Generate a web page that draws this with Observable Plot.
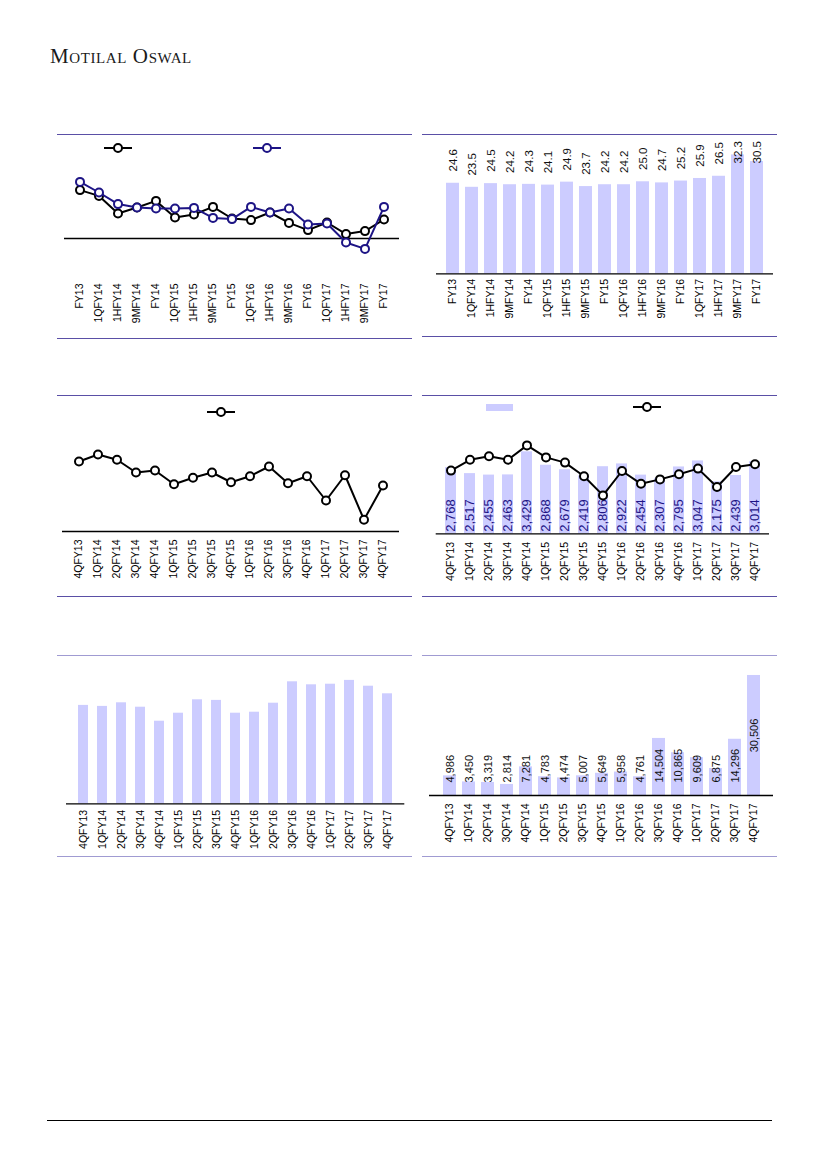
<!DOCTYPE html>
<html><head><meta charset="utf-8">
<script src="https://cdn.jsdelivr.net/npm/d3@7"></script>
<script src="https://cdn.jsdelivr.net/npm/@observablehq/plot@0.6"></script>
<style>
body{margin:0;background:#fff;}
#page{position:relative;width:827px;height:1169px;overflow:hidden;background:#fff;font-family:"Liberation Sans",Arial,sans-serif;}
.rule{position:absolute;height:0;border-top:1.4px solid #5a4fa6;}
.rule.light{border-top-color:#a09bd2;}
.rule.black{border-top:1.6px solid #000;}
#brand{position:absolute;left:50px;top:44px;line-height:24px;font-family:"Liberation Serif","Times New Roman",serif;font-variant:small-caps;font-size:21px;letter-spacing:0.6px;color:#1a1a1a;white-space:nowrap;}
svg{overflow:visible;}
</style></head>
<body>
<div id="page"><div id="brand">Motilal Oswal</div></div>
<script>
// ---------- data ----------
const periods = ["FY13","1QFY14","1HFY14","9MFY14","FY14","1QFY15","1HFY15","9MFY15","FY15","1QFY16","1HFY16","9MFY16","FY16","1QFY17","1HFY17","9MFY17","FY17"];
const quarters = ["4QFY13","1QFY14","2QFY14","3QFY14","4QFY14","1QFY15","2QFY15","3QFY15","4QFY15","1QFY16","2QFY16","3QFY16","4QFY16","1QFY17","2QFY17","3QFY17","4QFY17"];
const chart1Black = [24.2, 21.3, 12.5, 15.5, 18.8, 10.5, 12.0, 15.8, 10.0, 9.2, 13.0, 7.8, 4.2, 8.0, 2.2, 3.7, 9.5];
const chart1Navy  = [28.3, 23.0, 17.2, 15.5, 15.0, 15.0, 15.3, 10.3, 9.7, 15.8, 13.0, 15.0, 7.0, 7.5, -2.0, -5.2, 15.8];
const chart2Values = [24.6, 23.5, 24.5, 24.2, 24.3, 24.1, 24.9, 23.7, 24.2, 24.2, 25.0, 24.7, 25.2, 25.9, 26.5, 32.3, 30.5];
const chart3Values = [28.0, 30.8, 28.7, 23.6, 24.4, 18.9, 21.5, 23.6, 19.7, 22.1, 26.0, 19.3, 22.1, 12.4, 22.5, 4.7, 18.4];
const chart4Bars = [2768, 2517, 2455, 2463, 3429, 2868, 2679, 2419, 2806, 2922, 2454, 2307, 2795, 3047, 2175, 2439, 3014];
const chart4Line = [15.8, 18.5, 19.4, 18.5, 22.1, 19.1, 17.8, 14.4, 9.6, 15.7, 12.5, 13.6, 14.9, 16.3, 11.7, 16.7, 17.4];
const chart5Values = [49.2, 48.7, 50.5, 48.3, 41.3, 45.3, 52.0, 51.7, 45.3, 45.8, 50.3, 61.0, 59.5, 59.8, 61.7, 58.8, 55.0];
const chart6Values = [4986, 3450, 3319, 2814, 7281, 4783, 4474, 5007, 5649, 5958, 4761, 14504, 10865, 9609, 6875, 14296, 30506];

// ---------- helpers ----------
const NAVY = "#1d1485";
const BAR = "#ccccff";
const FONT = "'Liberation Sans', Arial, sans-serif";
const page = document.getElementById("page");
const baseStyle = {fontFamily: FONT, fontSize: "10.5px", color: "#000", background: "transparent", overflow: "visible"};
const fmt = d3.format(",");

function place(el, left, top) {
  el.style.position = "absolute";
  el.style.left = left + "px";
  el.style.top = top + "px";
  page.appendChild(el);
}
function rule(left, top, width, cls) {
  const d = document.createElement("div");
  d.className = "rule" + (cls ? " " + cls : "");
  d.style.left = left + "px"; d.style.top = top + "px"; d.style.width = width + "px";
  page.appendChild(d);
}
function legendLine(left, top, color) {
  const ns = "http://www.w3.org/2000/svg";
  const s = document.createElementNS(ns, "svg");
  s.setAttribute("width", 30); s.setAttribute("height", 12);
  s.innerHTML = `<line x1="1" x2="29" y1="6" y2="6" stroke="${color}" stroke-width="2"/><circle cx="15" cy="6" r="4" fill="#fff" stroke="${color}" stroke-width="2"/>`;
  s.style.position = "absolute"; s.style.left = left + "px"; s.style.top = top + "px";
  page.appendChild(s);
}
function legendRect(left, top, w, h, color) {
  const d = document.createElement("div");
  d.style.position = "absolute"; d.style.left = left + "px"; d.style.top = top + "px";
  d.style.width = w + "px"; d.style.height = h + "px"; d.style.background = color;
  page.appendChild(d);
}
const xAxis = (pad) => Plot.axisX({tickRotate: -90, tickSize: 0, tickPadding: pad, label: null, fontSize: 10.5});

// ---------- chart 1 ----------
const d1 = periods.map((p, i) => ({p, a: chart1Black[i], b: chart1Navy[i]}));
const c1 = Plot.plot({
  width: 380, height: 195, marginLeft: 24, marginRight: 21, marginTop: 25, marginBottom: 63,
  style: baseStyle,
  x: {type: "band", domain: periods, padding: 0.3, label: null},
  y: {domain: [-17, 36.5], axis: null},
  marks: [
    Plot.ruleY([0], {stroke: "#000", strokeWidth: 1.3}),
    xAxis(11),
    Plot.line(d1, {x: "p", y: "a", stroke: "#000", strokeWidth: 2}),
    Plot.dot(d1, {x: "p", y: "a", r: 4, stroke: "#000", strokeWidth: 2, fill: "#fff"}),
    Plot.line(d1, {x: "p", y: "b", stroke: NAVY, strokeWidth: 2}),
    Plot.dot(d1, {x: "p", y: "b", r: 4, stroke: NAVY, strokeWidth: 2, fill: "#fff"})
  ]
});
place(c1, 40, 140);
legendLine(103, 142, "#000");
legendLine(252, 142, NAVY);

// ---------- chart 2 ----------
const d2 = periods.map((p, i) => ({p, v: chart2Values[i]}));
const y2Max = 36;
const labelCap2 = y2Max - 6;
const c2 = Plot.plot({
  width: 370, height: 200, marginLeft: 21, marginRight: 12, marginTop: 4.8, marginBottom: 62.7,
  style: baseStyle,
  x: {type: "band", domain: periods, padding: 0.34, label: null},
  y: {domain: [0, y2Max], axis: null},
  marks: [
    Plot.barY(d2, {x: "p", y: "v", fill: BAR}),
    Plot.ruleY([0], {stroke: "#000", strokeWidth: 1.3}),
    Plot.text(d2, {x: "p", y: d => Math.min(d.v + 3.2, labelCap2), text: d => d.v.toFixed(1), rotate: -90, textAnchor: "start", fontSize: 11.5, fill: "#111"}),
    xAxis(5)
  ]
});
place(c2, 415, 136);

// ---------- chart 3 ----------
const d3v = quarters.map((q, i) => ({q, v: chart3Values[i]}));
const c3 = Plot.plot({
  width: 380, height: 195, marginLeft: 22, marginRight: 21, marginTop: 41, marginBottom: 64,
  style: baseStyle,
  x: {type: "band", domain: quarters, padding: 0.3, label: null},
  y: {domain: [0, 36], axis: null},
  marks: [
    Plot.ruleY([0], {stroke: "#000", strokeWidth: 1.3}),
    xAxis(8),
    Plot.line(d3v, {x: "q", y: "v", stroke: "#000", strokeWidth: 2}),
    Plot.dot(d3v, {x: "q", y: "v", r: 4, stroke: "#000", strokeWidth: 2, fill: "#fff"})
  ]
});
place(c3, 40, 400);
legendLine(206, 406, "#000");

// ---------- chart 4 ----------
const d4 = quarters.map((q, i) => ({q, v: chart4Bars[i], m: chart4Line[i]}));
const y4Max = 4600;
const y4Secondary = d3.scaleLinear().domain([0, 27.5]).range([0, y4Max]);
const c4 = Plot.plot({
  width: 370, height: 195, marginLeft: 20.7, marginRight: 16, marginTop: 23.3, marginBottom: 61.7,
  style: baseStyle,
  x: {type: "band", domain: quarters, padding: 0.42, label: null},
  y: {domain: [0, y4Max], axis: null},
  marks: [
    Plot.barY(d4, {x: "q", y: "v", fill: BAR}),
    Plot.ruleY([0], {stroke: "#000", strokeWidth: 1.3}),
    Plot.text(d4, {x: "q", y: 0, dy: -2, text: d => fmt(d.v), rotate: -90, textAnchor: "start", fontSize: 13, fill: NAVY}),
    xAxis(8),
    Plot.line(d4, {x: "q", y: d => y4Secondary(d.m), stroke: "#000", strokeWidth: 2}),
    Plot.dot(d4, {x: "q", y: d => y4Secondary(d.m), r: 4, stroke: "#000", strokeWidth: 2, fill: "#fff"})
  ]
});
place(c4, 415, 400);
legendRect(486, 404, 27, 7, BAR);
legendLine(632, 401, "#000");

// ---------- chart 5 ----------
const d5 = quarters.map((q, i) => ({q, v: chart5Values[i]}));
const c5 = Plot.plot({
  width: 380, height: 195, marginLeft: 26, marginRight: 15.7, marginTop: 9.3, marginBottom: 51.7,
  style: baseStyle,
  x: {type: "band", domain: quarters, padding: 0.45, label: null},
  y: {domain: [0, 67], axis: null},
  marks: [
    Plot.barY(d5, {x: "q", y: "v", fill: BAR}),
    Plot.ruleY([0], {stroke: "#000", strokeWidth: 1.3}),
    xAxis(6)
  ]
});
place(c5, 40, 660);

// ---------- chart 6 ----------
const d6 = quarters.map((q, i) => ({q, v: chart6Values[i]}));
const max6 = d3.max(chart6Values);
const c6 = Plot.plot({
  width: 370, height: 195, marginLeft: 14, marginRight: 12, marginTop: 9.1, marginBottom: 60,
  style: baseStyle,
  x: {type: "band", domain: quarters, padding: 0.33, label: null},
  y: {domain: [0, 32000], axis: null},
  marks: [
    Plot.barY(d6, {x: "q", y: "v", fill: BAR}),
    Plot.ruleY([0], {stroke: "#000", strokeWidth: 1.3}),
    Plot.text(d6.filter(d => d.v < max6), {x: "q", y: 0, dy: -13, text: d => fmt(d.v), rotate: -90, textAnchor: "start", fontSize: 11, fill: "#111"}),
    Plot.text(d6.filter(d => d.v === max6), {x: "q", y: d => d.v / 2, text: d => fmt(d.v), rotate: -90, textAnchor: "middle", fontSize: 11, fill: "#111"}),
    xAxis(8)
  ]
});
place(c6, 415, 660);

// ---------- frame rules ----------
rule(57, 134, 355); rule(57, 337.5, 355);
rule(422, 134, 355); rule(422, 335.5, 355);
rule(57, 394.5, 355); rule(57, 595.5, 355);
rule(422, 395, 355); rule(422, 595.5, 355);
rule(57, 654.5, 355, "light"); rule(57, 855.5, 355, "light");
rule(422, 654.5, 355, "light"); rule(422, 855.5, 355, "light");
rule(47, 1119.5, 725, "black");
</script>
</body></html>
